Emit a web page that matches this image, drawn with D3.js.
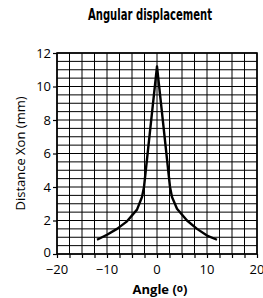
<!DOCTYPE html>
<html>
<head>
<meta charset="utf-8">
<script src="https://cdn.jsdelivr.net/npm/d3@7"></script>
<style>
  body { margin: 0; background: #fff; }
</style>
</head>
<body>
<div id="chart"></div>
<script>
// curve: angle (deg) vs distance Xon (mm)
const angles = [-12, -10, -8, -6, -4, -3, -2.6, 0, 2.6, 3, 4, 6, 8, 10, 12];
const distances = [0.85, 1.15, 1.5, 1.95, 2.65, 3.4, 4.0, 11.2, 4.0, 3.4, 2.7, 2.0, 1.5, 1.1, 0.85];
const xTickLabels = [-20, -10, 0, 10, 20];
const yTickLabels = [0, 2, 4, 6, 8, 10, 12];

const width = 263, height = 298;
const margin = {top: 53, right: 6, bottom: 44, left: 57};

const svg = d3.select("#chart").append("svg")
    .attr("width", width)
    .attr("height", height);

const x = d3.scaleLinear().domain([-20, 20]).range([margin.left, width - margin.right]);
const y = d3.scaleLinear().domain([0, 12]).range([height - margin.bottom, margin.top]);

// grid
const grid = svg.append("g").attr("stroke", "#000").attr("stroke-width", 1);
grid.selectAll("line.v")
    .data(d3.range(-20, 20.01, 2.5))
    .enter().append("line")
    .attr("x1", d => x(d)).attr("x2", d => x(d))
    .attr("y1", y(0)).attr("y2", y(12));
grid.selectAll("line.h")
    .data(d3.range(0, 12.01, 0.5))
    .enter().append("line")
    .attr("y1", d => y(d)).attr("y2", d => y(d))
    .attr("x1", x(-20)).attr("x2", x(20));

// frame
svg.append("rect")
    .attr("x", x(-20)).attr("y", y(12))
    .attr("width", x(20) - x(-20)).attr("height", y(0) - y(12))
    .attr("fill", "none").attr("stroke", "#000").attr("stroke-width", 1.6);

// axes
const xAxis = svg.append("g")
    .attr("transform", `translate(0,${y(0)})`)
    .call(d3.axisBottom(x).tickValues(d3.range(-20, 20.01, 2.5)).tickSize(4).tickFormat(""));
xAxis.select(".domain").remove();
xAxis.selectAll("line").attr("stroke-width", 1.2);
svg.append("g").selectAll("text")
    .data(xTickLabels)
    .enter().append("text")
    .attr("x", d => x(d))
    .attr("y", y(0) + 20)
    .attr("text-anchor", "middle")
    .attr("font-family", "'Open Sans', sans-serif")
    .attr("font-size", 13)
    .text(d => d < 0 ? "\u2212" + Math.abs(d) : d);

const yAxis = svg.append("g")
    .attr("transform", `translate(${x(-20)},0)`)
    .call(d3.axisLeft(y).tickValues(yTickLabels).tickSize(4).tickPadding(2).tickFormat(d3.format("d")));
yAxis.select(".domain").remove();
yAxis.selectAll("line").attr("stroke-width", 1.2);
yAxis.selectAll("text")
    .attr("font-family", "'Open Sans', sans-serif")
    .attr("font-size", 13)
    .attr("fill", "#000");
// lift the 0 label a touch so it clears the -20 below it
yAxis.selectAll(".tick").filter(d => d === 0).select("text").attr("dy", "0.2em");

// curve
const line = d3.line()
    .x((d, i) => x(angles[i]))
    .y(d => y(d));
svg.append("path")
    .datum(distances)
    .attr("d", line)
    .attr("fill", "none")
    .attr("stroke", "#000")
    .attr("stroke-width", 2.4)
    .attr("stroke-linejoin", "round");

// title
svg.append("text")
    .attr("x", 150).attr("y", 20)
    .attr("text-anchor", "middle")
    .attr("font-family", "'DejaVu Sans Condensed', 'Liberation Sans Narrow', sans-serif")
    .attr("font-weight", "bold")
    .attr("font-size", 15)
    .attr("textLength", 124)
    .attr("lengthAdjust", "spacingAndGlyphs")
    .text("Angular displacement");

// axis titles
const xt = svg.append("text")
    .attr("x", 160).attr("y", 294)
    .attr("text-anchor", "middle")
    .attr("font-family", "'Open Sans', sans-serif")
    .attr("font-weight", "bold")
    .attr("font-size", 13);
xt.append("tspan").text("Angle (");
xt.append("tspan").attr("font-size", 10).attr("dy", -2).text("o");
xt.append("tspan").attr("dy", 2).text(")");

svg.append("text")
    .attr("transform", `translate(25,${(y(0) + y(12)) / 2}) rotate(-90)`)
    .attr("text-anchor", "middle")
    .attr("font-family", "'Open Sans', sans-serif")
    .attr("font-size", 13)
    .text("Distance Xon (mm)");
</script>
</body>
</html>
